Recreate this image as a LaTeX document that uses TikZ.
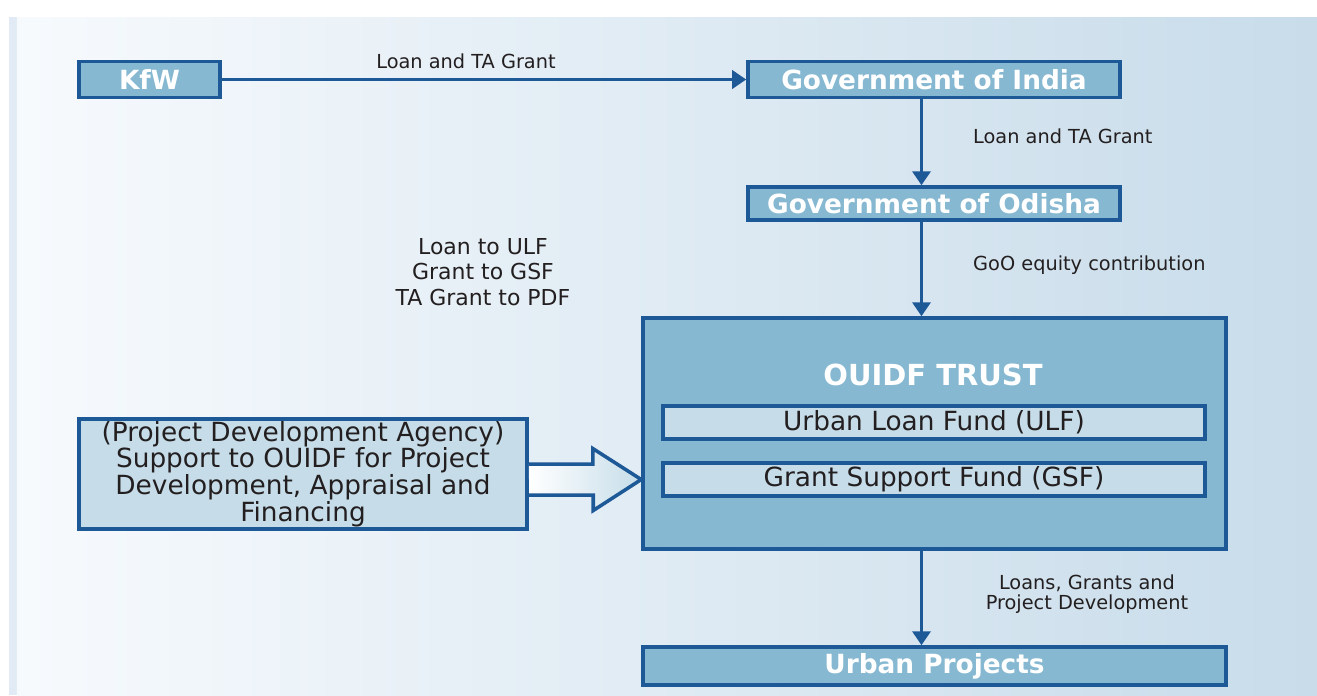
\documentclass[tikz,border=0pt]{standalone}
\usepackage{fontspec}
\setmainfont{DejaVu Sans}
\usepackage{tikz}
\usetikzlibrary{arrows.meta,positioning}

\definecolor{boxblue}{HTML}{86B8D1}
\definecolor{paleblue}{HTML}{C6DDE9}
\definecolor{edgeblue}{HTML}{1D5897}
\definecolor{inkgrey}{HTML}{231F20}
\definecolor{panelleft}{HTML}{F7FAFD}
\definecolor{panelright}{HTML}{C8DCEA}
\definecolor{stripblue}{HTML}{E2EBF5}

\tikzset{
  darkbox/.style={draw=edgeblue,fill=boxblue,line width=2pt,inner sep=0pt,
    minimum height=0.72cm,text=white,font=\bfseries\fontsize{15}{18}\selectfont},
  palebox/.style={draw=edgeblue,fill=paleblue,line width=2pt,inner sep=0pt,
    text=inkgrey,align=center,font=\fontsize{15}{15.2}\selectfont},
  flow/.style={draw=edgeblue,line width=2pt,-{Triangle[length=0.28cm,width=0.36cm]}},
  note/.style={text=inkgrey,align=center,font=\fontsize{11}{11.5}\selectfont},
  blockarrow/.style={draw=edgeblue,line width=2pt,line join=miter,left color=white,right color=paleblue}
}

\begin{document}
\begin{tikzpicture}
\useasboundingbox (0,0) rectangle (26.34,-13.9);
\fill[stripblue] (0.18,-0.34) rectangle (0.34,-13.9);
\shade[left color=panelleft,right color=panelright] (0.34,-0.34) rectangle (26.34,-13.9);

\node[darkbox,minimum width=2.82cm] (kfw) at (2.99,-1.59) {KfW};
\node[darkbox,minimum width=7.44cm] (goi) at (18.68,-1.59) {Government of India};
\node[darkbox,minimum width=7.44cm,minimum height=0.66cm] (goo) at (18.68,-4.07) {Government of Odisha};

\node[darkbox,minimum width=11.66cm,minimum height=4.62cm] (trust) at (18.69,-8.67) {};
\node[text=white,font=\bfseries\fontsize{16.5}{18}\selectfont] (trusttitle) at (18.66,-7.5) {OUIDF TRUST};
\node[palebox,minimum width=10.84cm,minimum height=0.66cm] (ulf) at (18.68,-8.45) {Urban Loan Fund (ULF)};
\node[palebox,minimum width=10.84cm,minimum height=0.66cm] (gsf) at (18.68,-9.59) {Grant Support Fund (GSF)};

\node[palebox,minimum width=8.96cm,minimum height=2.2cm] (pda) at (6.06,-9.48)
  {(Project Development Agency)\\Support to OUIDF for Project\\Development, Appraisal and\\Financing};

\node[darkbox,minimum width=11.66cm,minimum height=0.76cm] (urban) at (18.69,-13.32) {Urban Projects};

\coordinate (spine) at (18.43,0);
\draw[flow] (kfw) -- (goi);
\draw[flow] (goi.south -| spine) -- (goo.north -| spine);
\draw[flow] (goo.south -| spine) -- (trust.north -| spine);
\draw[flow] (trust.south -| spine) -- (urban.north -| spine);

\coordinate (pdaout) at (pda.east |- gsf.west);
\draw[blockarrow] ([yshift=0.31cm]pdaout) -- ++(1.28,0) -- ++(0,0.31)
  -- (trust.west |- pdaout) -- ++(-0.96,-0.62) -- ++(0,0.31) -- ++(-1.28,0);

\node[note] (kfwlbl) at (9.32,-1.22) {Loan and TA Grant};
\node[note,anchor=west] (goilbl) at (19.34,-2.72) {Loan and TA Grant};
\node[note,anchor=west] (goolbl) at (19.34,-5.3) {GoO equity contribution};
\node[note] (trustlbl) at (21.74,-11.88) {Loans, Grants and\\Project Development};
\node[note,font=\fontsize{12.5}{14.5}\selectfont] (splitlbl) at (9.66,-5.44)
  {Loan to ULF\\Grant to GSF\\TA Grant to PDF};
\end{tikzpicture}
\end{document}
